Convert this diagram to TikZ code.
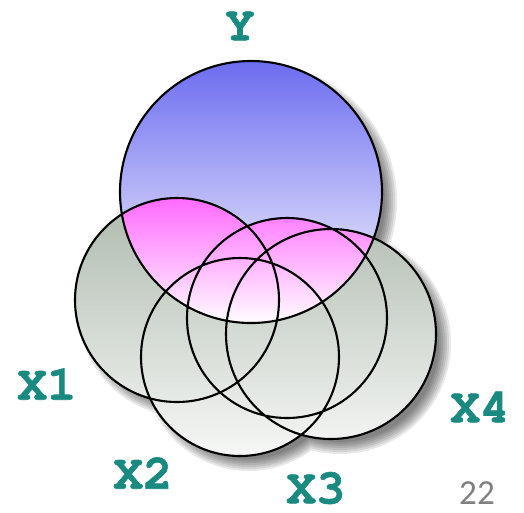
\documentclass[tikz,border=0pt]{standalone}
\usepackage{fontspec}
\newfontfamily\labelfont[BoldFeatures={FakeBold=1.2}]{TeX Gyre Cursor}
\newfontfamily\pagefont{Carlito}
\definecolor{labelteal}{RGB}{26,138,128}
\definecolor{ytop}{RGB}{108,108,240}
\definecolor{overlaptop}{RGB}{255,105,255}
\definecolor{xtop}{RGB}{174,186,174}
\definecolor{xbottom}{RGB}{246,247,246}
\definecolor{pagegray}{RGB}{128,128,128}

\begin{document}
\begin{tikzpicture}[x=0.02cm,y=0.02cm]
  \tikzstyle{setlabel}=[text=labelteal,inner sep=0pt,font=\labelfont\bfseries\fontsize{28}{28}\selectfont]
  \tikzstyle{rim}=[draw=black,line width=1.2pt]
  \useasboundingbox (0,0) rectangle (524,-512);
  \coordinate (y) at (251,-192);
  \coordinate (x1) at (177,-300);
  \coordinate (x2) at (240,-357);
  \coordinate (x3) at (287,-318);
  \coordinate (x4) at (331,-334);
  % soft shadow
  \foreach \d in {-6,-4,...,6}
    \fill[black,opacity=0.09] foreach \c/\r in {y/131,x1/102,x2/99,x3/100,x4/105}
      {([shift={(9,-9)}]\c) circle[radius=\r+\d]};
  % fills
  \shade[top color=xtop,bottom color=xbottom] foreach \c/\r in {x1/102,x2/99,x3/100,x4/105}
    {(\c) circle[radius=\r]};
  \shade[top color=ytop,bottom color=white] (y) circle[radius=131];
  \begin{scope}
    \clip (y) circle[radius=131];
    \clip foreach \c/\r in {x1/102,x2/99,x3/100,x4/105} {(\c) circle[radius=\r]};
    \shade[top color=overlaptop,bottom color=white] (100,-197) rectangle (400,-325);
  \end{scope}
  % outlines
  \draw[rim] foreach \c/\r in {y/131,x1/102,x2/99,x3/100,x4/105} {(\c) circle[radius=\r]};
  \node[setlabel] (ylabel) at (240,-26) {Y};
  \node[setlabel] (x1label) at (47,-384) {X1};
  \node[setlabel] (x2label) at (143,-473) {X2};
  \node[setlabel] (x3label) at (316,-488) {X3};
  \node[setlabel] (x4label) at (480,-407) {X4};
  \node[text=pagegray,inner sep=0pt,font=\pagefont\fontsize{20}{20}\selectfont,anchor=base] (pagenum) at (477,-504) {22};
\end{tikzpicture}
\end{document}
